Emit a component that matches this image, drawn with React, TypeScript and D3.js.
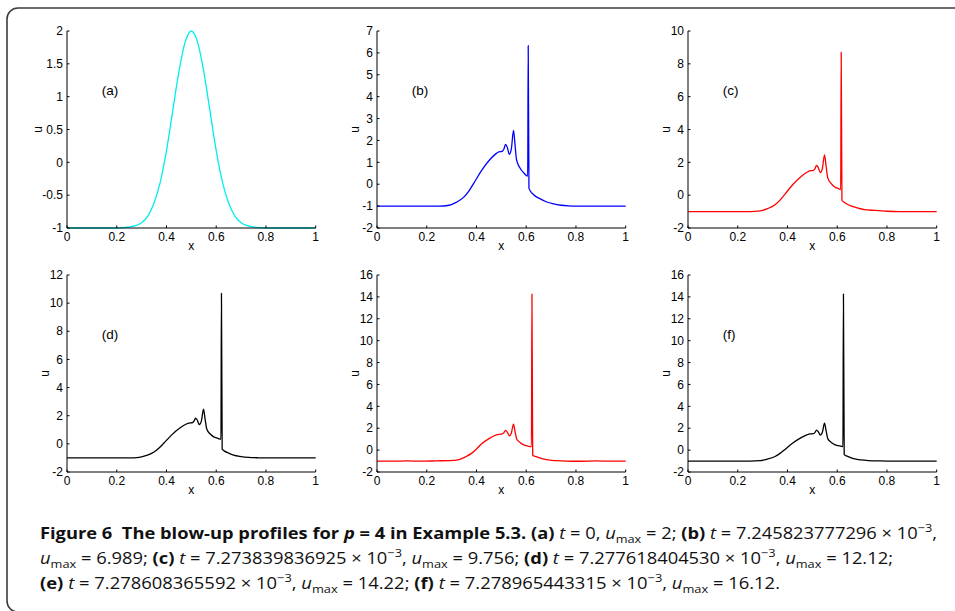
import React from 'react';
import * as d3 from 'd3';

type Pt = [number, number];

// x ticks shared by every panel
const xTicks = [0, 0.2, 0.4, 0.6, 0.8, 1];

// y ticks per panel
const yTicksA = [-1, -0.5, 0, 0.5, 1, 1.5, 2];
const yTicksB = [-2, -1, 0, 1, 2, 3, 4, 5, 6, 7];
const yTicksC = [-2, 0, 2, 4, 6, 8, 10];
const yTicksD = [-2, 0, 2, 4, 6, 8, 10, 12];
const yTicksEF = [-2, 0, 2, 4, 6, 8, 10, 12, 14, 16];

// profiles: [x, u]
const profileA: Pt[] = [
  [0, -1], [0.2, -1], [0.22, -0.995], [0.25, -0.985], [0.275, -0.965], [0.3, -0.92],
  [0.325, -0.82], [0.35, -0.62], [0.375, -0.3], [0.4, 0.18], [0.425, 0.78], [0.45, 1.38],
  [0.475, 1.83], [0.5, 2], [0.525, 1.83], [0.55, 1.38], [0.575, 0.78], [0.6, 0.18],
  [0.625, -0.3], [0.65, -0.62], [0.675, -0.82], [0.7, -0.92], [0.725, -0.965],
  [0.75, -0.985], [0.78, -0.995], [0.8, -1], [1, -1],
];

const profileB: Pt[] = [
  [0, -1], [0.25, -1], [0.29, -0.96], [0.32, -0.82], [0.35, -0.58], [0.37, -0.3],
  [0.39, 0.06], [0.42, 0.62], [0.455, 1.14], [0.48, 1.41], [0.49, 1.48], [0.503, 1.5],
  [0.51, 1.6], [0.517, 1.82], [0.524, 1.68], [0.532, 1.37], [0.54, 1.6], [0.549, 2.46],
  [0.555, 1.8], [0.561, 1.12], [0.575, 0.74], [0.59, 0.52], [0.606, 0.37], [0.608, 6.33],
  [0.611, -0.19], [0.63, -0.48], [0.655, -0.66], [0.68, -0.8], [0.71, -0.9],
  [0.74, -0.96], [0.77, -0.99], [0.8, -1], [1, -1],
];

const profileC: Pt[] = [
  [0, -1], [0.25, -1], [0.29, -0.96], [0.32, -0.82], [0.35, -0.58], [0.37, -0.3],
  [0.39, 0.06], [0.42, 0.62], [0.455, 1.14], [0.48, 1.41], [0.49, 1.48], [0.503, 1.5],
  [0.51, 1.6], [0.517, 1.82], [0.524, 1.68], [0.532, 1.37], [0.54, 1.6], [0.549, 2.46],
  [0.555, 1.8], [0.562, 1.05], [0.575, 0.72], [0.59, 0.5], [0.605, 0.4], [0.614, 0.34],
  [0.616, 8.7], [0.619, -0.31], [0.628, -0.43], [0.65, -0.62], [0.68, -0.77],
  [0.71, -0.88], [0.75, -0.93], [0.8, -0.98], [0.85, -1], [1, -1],
];

const profileD: Pt[] = [
  [0, -1], [0.25, -1], [0.29, -0.96], [0.32, -0.82], [0.35, -0.58], [0.37, -0.3],
  [0.39, 0.06], [0.42, 0.62], [0.455, 1.14], [0.48, 1.41], [0.49, 1.48], [0.503, 1.5],
  [0.51, 1.6], [0.517, 1.82], [0.524, 1.68], [0.532, 1.37], [0.54, 1.6], [0.549, 2.46],
  [0.555, 1.8], [0.562, 1.05], [0.575, 0.72], [0.59, 0.5], [0.605, 0.4], [0.619, 0.33],
  [0.621, 10.69], [0.624, -0.38], [0.632, -0.5], [0.65, -0.66], [0.67, -0.8],
  [0.7, -0.9], [0.73, -0.96], [0.77, -0.99], [0.8, -1], [1, -1],
];

const profileE: Pt[] = [
  [0, -1], [0.06, -1.01], [0.12, -0.99], [0.18, -1.01], [0.24, -0.98], [0.29, -0.96],
  [0.33, -0.86], [0.36, -0.56], [0.38, -0.3], [0.4, 0.1], [0.42, 0.55], [0.45, 1.05],
  [0.48, 1.4], [0.503, 1.48], [0.51, 1.6], [0.517, 1.8], [0.524, 1.65], [0.532, 1.3],
  [0.54, 1.55], [0.549, 2.38], [0.555, 1.7], [0.562, 1.0], [0.575, 0.7], [0.59, 0.48],
  [0.605, 0.38], [0.621, 0.32], [0.623, 14.26], [0.626, -0.47], [0.64, -0.6],
  [0.667, -0.8], [0.695, -0.92], [0.721, -0.96], [0.76, -1.0], [0.82, -1.02],
  [0.88, -0.99], [0.94, -1.01], [1, -1],
];

const profileF: Pt[] = [
  [0, -1], [0.25, -1], [0.29, -0.96], [0.32, -0.82], [0.35, -0.58], [0.37, -0.3],
  [0.39, 0.06], [0.42, 0.62], [0.455, 1.14], [0.48, 1.41], [0.49, 1.48], [0.503, 1.5],
  [0.51, 1.6], [0.517, 1.82], [0.524, 1.68], [0.532, 1.37], [0.54, 1.6], [0.549, 2.46],
  [0.555, 1.8], [0.562, 1.05], [0.575, 0.72], [0.59, 0.5], [0.605, 0.4], [0.623, 0.32],
  [0.625, 14.26], [0.628, -0.41], [0.64, -0.55], [0.665, -0.78], [0.695, -0.9],
  [0.725, -0.96], [0.77, -0.99], [0.8, -1], [1, -1],
];

const panelLabels = ['(a)', '(b)', '(c)', '(d)', '', '(f)'];

// caption segments: b = bold, i = italic, s = 'sub' | 'sup'
type Seg = { t: string; b?: boolean; i?: boolean; s?: 'sub' | 'sup' };
const caption1: Seg[] = [
  { t: 'Figure 6  The blow-up profiles for ', b: true },
  { t: 'p', b: true, i: true },
  { t: ' = 4 in Example 5.3. (a)', b: true },
  { t: ' ' }, { t: 't', i: true }, { t: ' = 0, ' }, { t: 'u', i: true }, { t: 'max', s: 'sub' },
  { t: ' = 2; ' }, { t: '(b)', b: true }, { t: ' ' }, { t: 't', i: true },
  { t: ' = 7.245823777296 × 10' }, { t: '−3', s: 'sup' }, { t: ',' },
];
const caption2: Seg[] = [
  { t: 'u', i: true }, { t: 'max', s: 'sub' }, { t: ' = 6.989; ' }, { t: '(c)', b: true },
  { t: ' ' }, { t: 't', i: true }, { t: ' = 7.273839836925 × 10' }, { t: '−3', s: 'sup' },
  { t: ', ' }, { t: 'u', i: true }, { t: 'max', s: 'sub' }, { t: ' = 9.756; ' },
  { t: '(d)', b: true }, { t: ' ' }, { t: 't', i: true }, { t: ' = 7.277618404530 × 10' },
  { t: '−3', s: 'sup' }, { t: ', ' }, { t: 'u', i: true }, { t: 'max', s: 'sub' },
  { t: ' = 12.12;' },
];
const caption3: Seg[] = [
  { t: '(e)', b: true }, { t: ' ' }, { t: 't', i: true }, { t: ' = 7.278608365592 × 10' },
  { t: '−3', s: 'sup' }, { t: ', ' }, { t: 'u', i: true }, { t: 'max', s: 'sub' },
  { t: ' = 14.22; ' }, { t: '(f)', b: true }, { t: ' ' }, { t: 't', i: true },
  { t: ' = 7.278965443315 × 10' }, { t: '−3', s: 'sup' }, { t: ', ' }, { t: 'u', i: true },
  { t: 'max', s: 'sub' }, { t: ' = 16.12.' },
];

const FONT = '"Liberation Sans", Arial, sans-serif';

type PanelProps = {
  left: number; top: number; width: number; height: number;
  yTicks: number[]; data: Pt[]; color: string; label: string; uOffset: number;
};

function Panel({ left, top, width, height, yTicks, data, color, label, uOffset }: PanelProps) {
  const x = d3.scaleLinear().domain([0, 1]).range([left, left + width]);
  const y = d3.scaleLinear().domain([yTicks[0], yTicks[yTicks.length - 1]]).range([top + height, top]);
  const line = d3.line<Pt>().x(d => x(d[0])).y(d => y(d[1])).curve(d3.curveMonotoneX);
  const bottom = top + height;
  const tl = 2.5;
  return (
    <g fontFamily={FONT} fontSize={12} fill="#000">
      <path d={line(data) || ''} fill="none" stroke={color} strokeWidth={1.3} />
      <line x1={left} x2={left + width} y1={bottom} y2={bottom} stroke="#000" strokeWidth={1} />
      <line x1={left} x2={left} y1={top} y2={bottom} stroke="#000" strokeWidth={1} />
      {xTicks.map(t => (
        <g key={'x' + t}>
          <line x1={x(t)} x2={x(t)} y1={bottom} y2={bottom - tl} stroke="#000" />
          <text x={x(t)} y={bottom + 13} textAnchor="middle">{String(t)}</text>
        </g>
      ))}
      {yTicks.map(t => (
        <g key={'y' + t}>
          <line x1={left} x2={left + tl} y1={y(t)} y2={y(t)} stroke="#000" />
          <text x={left - 4} y={y(t)} dy="0.35em" textAnchor="end">{String(t)}</text>
        </g>
      ))}
      <text x={left + width / 2} y={bottom + 22} textAnchor="middle">x</text>
      <text transform={`translate(${left - uOffset},${top + height / 2}) rotate(-90)`}
        textAnchor="middle" dy="0.35em">u</text>
      {label && (
        <text x={left + width * 0.14} y={top + height * 0.30} dy="0.35em" fontSize={13.5}>{label}</text>
      )}
    </g>
  );
}

function CaptionLine({ segs, y, len }: { segs: Seg[]; y: number; len: number }) {
  let shift = 0;
  return (
    <text x={40} y={y} textLength={len} lengthAdjust="spacingAndGlyphs"
      fontFamily='"Open Sans", "Noto Sans", sans-serif' fontSize={16.5} fill="#111"
      style={{ whiteSpace: 'pre' }}>
      {segs.map((s, k) => {
        const target = s.s === 'sub' ? 4 : s.s === 'sup' ? -7 : 0;
        const dy = target - shift;
        shift = target;
        return (
          <tspan key={k} dy={dy} fontWeight={s.b ? 700 : 400} fontStyle={s.i ? 'italic' : 'normal'}
            fontSize={s.s ? 11.5 : 16.5}>{s.t}</tspan>
        );
      })}
    </text>
  );
}

export default function App() {
  const W = 955, H = 611;
  const cols = [67, 377, 688];
  const rows = [31, 275];
  const pw = 248.7, ph = 197;
  const panels = [
    { data: profileA, yTicks: yTicksA, color: '#00eeee', uOffset: 29 },
    { data: profileB, yTicks: yTicksB, color: '#0000ff', uOffset: 22 },
    { data: profileC, yTicks: yTicksC, color: '#ff0000', uOffset: 22.5 },
    { data: profileD, yTicks: yTicksD, color: '#000000', uOffset: 22 },
    { data: profileE, yTicks: yTicksEF, color: '#ff0000', uOffset: 22.5 },
    { data: profileF, yTicks: yTicksEF, color: '#000000', uOffset: 22.5 },
  ];
  return (
    <svg width={W} height={H} style={{ position: 'absolute', left: 0, top: 0, background: '#fff' }}>
      <rect x={0} y={0} width={W} height={H} fill="#fff" />
      <rect x={7} y={8} width={1000} height={604} rx={11} fill="none" stroke="#3c3c3c" strokeWidth={1.6} />
      {panels.map((p, k) => (
        <Panel key={k} left={cols[k % 3]} top={rows[Math.floor(k / 3)]} width={pw} height={ph}
          yTicks={p.yTicks} data={p.data} color={p.color} label={panelLabels[k]} uOffset={p.uOffset} />
      ))}
      <CaptionLine segs={caption1} y={539} len={897} />
      <CaptionLine segs={caption2} y={564} len={853} />
      <CaptionLine segs={caption3} y={589} len={740} />
    </svg>
  );
}
